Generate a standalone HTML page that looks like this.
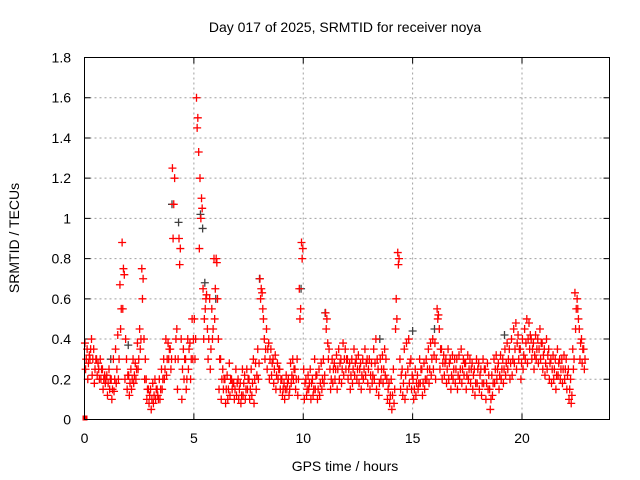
<!DOCTYPE html>
<html><head><meta charset="utf-8"><style>
body{margin:0;background:#fff}
svg{display:block;font-family:"Liberation Sans",sans-serif}
</style></head><body>
<svg id="chart" width="640" height="480" viewBox="0 0 640 480">
<rect x="0" y="0" width="640" height="480" fill="#fff"/>
<text x="345" y="32" font-size="14" text-anchor="middle">Day 017 of 2025, SRMTID for receiver noya</text>
<text transform="translate(19,238) rotate(-90)" font-size="14" text-anchor="middle">SRMTID / TECUs</text>
<text x="345" y="471" font-size="14" text-anchor="middle">GPS time / hours</text>
<g id="grid"></g>
<g id="ticks"></g>
<g id="pts"></g>
<rect x="84.5" y="57.5" width="525" height="362" fill="none" stroke="#000" stroke-width="1"/>
</svg>
<script>
const xTicks=[0,5,10,15,20];
const yTicks=[0,0.2,0.4,0.6,0.8,1,1.2,1.4,1.6,1.8];
const yTickLabels=["0","0.2","0.4","0.6","0.8","1","1.2","1.4","1.6","1.8"];
const redLow=[
0.25,0.2,0.3,0.22,0.18,0.3,0.25,0.2,0.15,0.18,
0.12,0.15,0.1,0.14,0.18,0.2,0.45,0.55,0.2,0.15,
0.12,0.15,0.18,0.2,0.25,0.35,0.6,0.2,0.1,0.08,
0.05,0.08,0.1,0.12,0.1,0.15,0.2,0.22,0.3,0.25,
0.9,0.3,0.15,0.77,0.1,0.2,0.15,0.25,0.2,0.3,
0.3,1.45,0.85,1.1,0.4,0.6,0.3,0.25,0.4,0.5,
0.78,0.15,0.1,0.15,0.08,0.1,0.12,0.15,0.1,0.12,
0.1,0.08,0.12,0.1,0.15,0.1,0.12,0.08,0.15,0.2,
0.6,0.55,0.3,0.25,0.2,0.22,0.18,0.15,0.2,0.15,
0.12,0.1,0.15,0.12,0.18,0.2,0.15,0.12,0.5,0.8,
0.1,0.12,0.15,0.1,0.12,0.15,0.1,0.12,0.15,0.18,
0.45,0.3,0.15,0.18,0.2,0.15,0.2,0.18,0.22,0.25,
0.2,0.15,0.18,0.22,0.2,0.18,0.15,0.2,0.22,0.18,
0.15,0.18,0.2,0.15,0.12,0.2,0.18,0.22,0.1,0.08,
0.05,0.08,0.6,0.77,0.15,0.12,0.1,0.15,0.18,0.15,
0.1,0.12,0.15,0.18,0.12,0.15,0.2,0.18,0.22,0.25,
0.2,0.5,0.25,0.2,0.22,0.18,0.2,0.15,0.2,0.18,
0.15,0.2,0.18,0.22,0.15,0.2,0.18,0.15,0.12,0.18,
0.15,0.12,0.18,0.1,0.15,0.05,0.12,0.18,0.2,0.15,
0.2,0.18,0.22,0.25,0.2,0.22,0.28,0.25,0.3,0.2,
0.25,0.3,0.28,0.35,0.3,0.25,0.3,0.28,0.3,0.25,
0.22,0.25,0.2,0.18,0.2,0.15,0.22,0.2,0.18,0.2,
0.15,0.1,0.08,0.25,0.45,0.55,0.3,0.28,0.25];
const redMid=[
0.3,0.28,0.35,0.3,0.25,0.22,0.2,0.25,0.2,0.2,
0.18,0.2,0.15,0.2,0.25,0.3,0.55,0.75,0.4,0.22,
0.18,0.2,0.22,0.25,0.3,0.4,0.7,0.3,0.15,0.12,
0.1,0.12,0.15,0.1,0.15,0.2,0.25,0.3,0.35,0.3,
1.07,0.4,0.3,0.85,0.25,0.3,0.2,0.35,0.3,0.4,
0.4,1.5,1.2,1.05,0.5,0.62,0.4,0.35,0.45,0.65,
0.6,0.3,0.2,0.2,0.15,0.15,0.2,0.18,0.15,0.18,
0.15,0.12,0.18,0.15,0.2,0.15,0.18,0.2,0.22,0.28,
0.65,0.5,0.35,0.35,0.3,0.28,0.25,0.22,0.25,0.2,
0.15,0.15,0.18,0.15,0.22,0.25,0.2,0.2,0.55,0.85,
0.18,0.15,0.18,0.18,0.15,0.22,0.15,0.18,0.2,0.22,
0.5,0.35,0.2,0.25,0.25,0.25,0.28,0.25,0.3,0.3,
0.25,0.22,0.25,0.28,0.25,0.25,0.22,0.25,0.28,0.25,
0.22,0.22,0.28,0.3,0.18,0.25,0.25,0.3,0.15,0.12,
0.12,0.15,0.5,0.8,0.22,0.18,0.22,0.25,0.28,0.22,
0.15,0.18,0.18,0.25,0.18,0.2,0.25,0.25,0.3,0.32,
0.3,0.52,0.35,0.28,0.28,0.25,0.28,0.22,0.25,0.25,
0.22,0.25,0.25,0.28,0.22,0.25,0.25,0.22,0.18,0.25,
0.22,0.18,0.25,0.18,0.22,0.1,0.18,0.25,0.25,0.22,
0.25,0.25,0.28,0.3,0.28,0.3,0.35,0.38,0.35,0.28,
0.32,0.38,0.4,0.42,0.35,0.32,0.35,0.35,0.38,0.32,
0.28,0.32,0.28,0.25,0.25,0.22,0.28,0.25,0.25,0.25,
0.22,0.15,0.12,0.3,0.55,0.5,0.38,0.35,0.3];
const redHigh=[
0.38,0.35,0.32,0.4,0.35,0.3,0.28,0.3,0.25,0.22,
0.22,0.25,0.2,0.3,0.35,0.42,0.67,0.88,0.72,0.3,
0.22,0.25,0.3,0.28,0.38,0.45,0.75,0.4,0.2,0.15,
0.15,0.18,0.2,0.15,0.2,0.25,0.3,0.4,0.38,0.35,
1.25,1.2,0.45,0.9,0.4,0.35,0.3,0.4,0.38,0.5,
0.5,1.6,1.33,1.0,0.65,0.55,0.45,0.6,0.55,0.8,
0.8,0.4,0.3,0.25,0.2,0.22,0.28,0.2,0.18,0.25,
0.2,0.18,0.25,0.22,0.25,0.2,0.25,0.3,0.28,0.35,
0.7,0.63,0.4,0.45,0.38,0.35,0.3,0.32,0.28,0.25,
0.2,0.18,0.22,0.2,0.28,0.3,0.25,0.3,0.65,0.88,
0.25,0.2,0.22,0.25,0.2,0.3,0.22,0.25,0.28,0.3,
0.53,0.38,0.25,0.3,0.28,0.32,0.35,0.3,0.38,0.35,
0.3,0.28,0.3,0.35,0.3,0.32,0.28,0.3,0.35,0.3,
0.3,0.28,0.35,0.4,0.25,0.3,0.32,0.35,0.2,0.18,
0.2,0.25,0.45,0.83,0.3,0.25,0.35,0.38,0.4,0.3,
0.2,0.25,0.22,0.3,0.25,0.28,0.3,0.35,0.38,0.4,
0.38,0.55,0.45,0.35,0.32,0.3,0.35,0.3,0.32,0.3,
0.3,0.32,0.35,0.3,0.28,0.32,0.3,0.28,0.25,0.3,
0.28,0.25,0.3,0.25,0.28,0.15,0.22,0.3,0.32,0.28,
0.32,0.3,0.35,0.38,0.35,0.4,0.45,0.48,0.42,0.35,
0.4,0.45,0.5,0.48,0.4,0.38,0.42,0.4,0.45,0.38,
0.35,0.4,0.35,0.3,0.32,0.3,0.35,0.3,0.3,0.32,
0.3,0.25,0.2,0.35,0.63,0.6,0.45,0.4,0.35];
const grayTimes=[2.0,4.0,4.3,5.3,5.4,5.5,8.0,9.9,11.0,13.5,15.0,19.2,1.2,6.0,16.0];
const grayValues=[0.37,1.07,0.98,1.02,0.95,0.68,0.7,0.65,0.53,0.4,0.44,0.42,0.3,0.6,0.45];
const L=84.5,R=609.5,T=57.5,B=419.5,XMAX=24,YMAX=1.8;
const xs=v=>L+(R-L)*v/XMAX, ys=v=>B-(B-T)*v/YMAX;
const NS='http://www.w3.org/2000/svg';
const grid=document.getElementById('grid'),ticks=document.getElementById('ticks'),pts=document.getElementById('pts'),svg=document.getElementById('chart');
function mk(tag,attrs,parent){const e=document.createElementNS(NS,tag);for(const k in attrs)e.setAttribute(k,attrs[k]);parent.appendChild(e);return e;}
xTicks.forEach(v=>{const x=xs(v);
 if(v>0){const g=mk('line',{x1:x,y1:T,x2:x,y2:B,stroke:'#a0a0a0','stroke-dasharray':'2,3'},grid);
 
 }
 const t=mk('path',{d:`M${x},${B}v-6M${x},${T}v6`,stroke:'#000'},ticks);
 
 
 const l=mk('text',{x:x,y:443,'font-size':14,'text-anchor':'middle'},svg);l.textContent=v;
 
 });
yTicks.forEach((v,i)=>{const y=ys(v);
 if(v>0&&v<YMAX){const g=mk('line',{x1:L,y1:y,x2:R,y2:y,stroke:'#a0a0a0','stroke-dasharray':'2,3'},grid);
 
 }
 const t=mk('path',{d:`M${L},${y}h6M${R},${y}h-6`,stroke:'#000'},ticks);
 
 
 const l=mk('text',{x:71,y:y+5,'font-size':14,'text-anchor':'end'},svg);l.textContent=yTickLabels[i];
 
 });
function plus(t,v,color,name){const x=xs(t),y=ys(v);
 const p=mk('path',{d:`M${x-4},${y}h8M${x},${y-4}v8`,stroke:color,'stroke-width':1.3},pts);
 
 }
grayTimes.forEach((t,i)=>plus(t,grayValues[i],'#404040','gray-point'));
redLow.forEach((v,i)=>plus(i*0.1+0.05,v,'#ff0000','red-point'));
redMid.forEach((v,i)=>plus(i*0.1+0.08,v,'#ff0000','red-point'));
redHigh.forEach((v,i)=>plus(i*0.1+0.02,v,'#ff0000','red-point'));
const o=mk('rect',{x:xs(0)-2,y:ys(0)-4,width:5,height:5,fill:'#ff0000'},pts);


</script>
</body></html>
